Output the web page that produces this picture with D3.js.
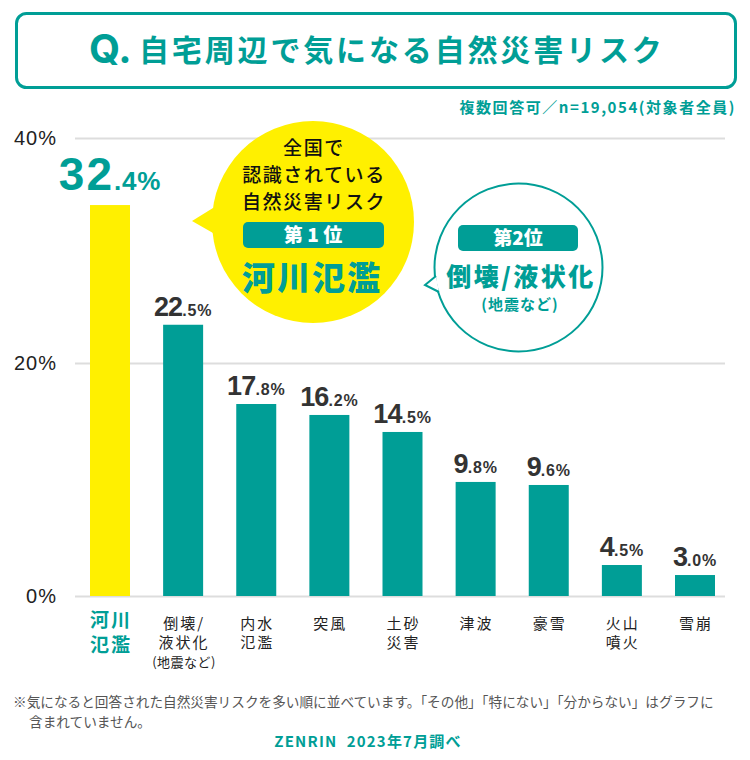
<!DOCTYPE html>
<html lang="ja">
<head>
<meta charset="UTF-8">
<title>自宅周辺で気になる自然災害リスク</title>
<script src="https://d3js.org/d3.v7.min.js"></script>
<style>
	html,body{margin:0;padding:0;background:#fff;}
	svg{display:block;}
	text{font-family:"Noto Sans CJK JP","Noto Sans",sans-serif;}
	.num{font-family:"Liberation Sans",Arial,sans-serif;font-weight:700;}
</style>
</head>
<body>
<script>
var teal = "#009e96", yellow = "#fff000", ink = "#222";

var categories = ["河川氾濫","倒壊/液状化","内水氾濫","突風","土砂災害","津波","豪雪","火山噴火","雪崩"];
// printed labels
var labelWhole = ["32","22","17","16","14","9","9","4","3"];
var labelDecimal = [".4%",".5%",".8%",".2%",".5%",".8%",".6%",".5%",".0%"];
// the source bars do not follow their printed numbers exactly, so bar
// lengths are read against the axis separately from the labels
var barValues = [34.04,23.4,16.48,15.54,14.08,9.79,9.53,2.66,1.8];
var tickValues = [0,20,40];
var categoryLines = [["河川","氾濫"],["倒壊/","液状化","(地震など)"],["内水","氾濫"],["突風"],["土砂","災害"],["津波"],["豪雪"],["火山","噴火"],["雪崩"]];

var svg = d3.select("body").append("svg").attr("width",750).attr("height",760);

var x = d3.scaleBand().domain(categories).range([90,715]).paddingInner(0.453).paddingOuter(0);
// source axis is unevenly spaced: 0-20 is a little taller than 20-40
var y = d3.scaleLinear().domain([0,20,40]).range([596,363,138]);

// title
svg.append("rect").attr("x",16.5).attr("y",13.5).attr("width",719).attr("height",74).attr("rx",10)
	.attr("fill","#fff").attr("stroke",teal).attr("stroke-width",3);
svg.append("text").attr("x",89).attr("y",63).attr("font-size",40).style("font-family","Inter,sans-serif").style("font-weight",700).attr("fill",teal).text("Q.");
svg.append("text").attr("x",139).attr("y",61).attr("font-size",30).attr("font-weight",700)
	.attr("letter-spacing",2.85).attr("fill",teal).text("自宅周辺で気になる自然災害リスク");
svg.append("text").attr("x",736).attr("y",113).attr("text-anchor","end").attr("font-size",15).attr("font-weight",700)
	.attr("letter-spacing",1.55).attr("fill",teal).text("複数回答可／n=19,054(対象者全員)");

// y axis + grid
var yAxis = svg.append("g").attr("transform","translate(75,0)")
	.call(d3.axisLeft(y).tickValues(tickValues).tickFormat(function(d){return d+"%";}).tickSize(-650).tickPadding(18));
yAxis.select(".domain").remove();
yAxis.selectAll("line").attr("stroke","#ddd").attr("stroke-width",2);
yAxis.selectAll("text").attr("font-size",20).style("font-family","'Liberation Sans',Arial,sans-serif")
	.attr("letter-spacing",1).attr("dy","0.32em").attr("fill",ink);

// bars
svg.selectAll(".bar").data(categories).enter().append("rect").attr("class","bar")
	.attr("x",function(d){return x(d);})
	.attr("width",x.bandwidth())
	.attr("y",function(d,i){return y(barValues[i]);})
	.attr("height",function(d,i){return y(0)-y(barValues[i]);})
	.attr("fill",function(d,i){return i==0?yellow:teal;});

// value labels
var vals = svg.selectAll(".val").data(categories).enter().append("text").attr("class","val num")
	.attr("text-anchor","middle")
	.attr("x",function(d){return x(d)+x.bandwidth()/2;})
	.attr("y",function(d,i){return y(barValues[i])-(i==0?15:9);})
	.attr("fill",function(d,i){return i==0?teal:"#333";});
vals.append("tspan").attr("font-size",function(d,i){return i==0?46:27;})
	.attr("letter-spacing",function(d,i){return i==0?2:-0.8;})
	.text(function(d,i){return labelWhole[i];});
vals.append("tspan").attr("font-size",function(d,i){return i==0?26:16;}).attr("letter-spacing",0.8).text(function(d,i){return labelDecimal[i];});

// category labels
categoryLines.forEach(function(lines,i){
	var g = svg.append("g");
	lines.forEach(function(line,j){
		var small = line.charAt(0)=="(";
		g.append("text").attr("text-anchor","middle")
			.attr("x",x(categories[i])+x.bandwidth()/2+1)
			.attr("y",i==0?626.5+j*25:628.5+j*19.5-(small?0.5:0))
			.attr("font-size",i==0?19:small?13:15)
			.attr("letter-spacing",i==0?2:small?0.5:2)
			.attr("font-weight",i==0?700:400)
			.attr("fill",i==0?teal:ink)
			.text(line);
	});
});

// yellow callout
svg.append("path").attr("d","M213,208 L192,221 L213,233 Z").attr("fill",yellow);
svg.append("circle").attr("cx",313).attr("cy",222).attr("r",101).attr("fill",yellow);
[["全国で",155],["認識されている",182],["自然災害リスク",209]].forEach(function(t){
	svg.append("text").attr("x",314).attr("y",t[1]).attr("text-anchor","middle").attr("font-size",19)
		.attr("font-weight",500).attr("letter-spacing",1.6).attr("fill","#111").text(t[0]);
});
svg.append("rect").attr("x",243).attr("y",222).attr("width",141).attr("height",26).attr("rx",5).attr("fill",teal);
svg.append("text").attr("x",313).attr("y",242).attr("text-anchor","middle").attr("font-size",19).attr("font-weight",900)
	.attr("fill","#fff").text("第 1 位");
svg.append("text").attr("x",312).attr("y",290).attr("text-anchor","middle").attr("font-size",33).attr("font-weight",900)
	.attr("letter-spacing",2).attr("fill",teal).text("河川氾濫");

// white callout
svg.append("circle").attr("cx",518.5).attr("cy",267.5).attr("r",84).attr("fill","#fff").attr("stroke",teal).attr("stroke-width",2);
svg.append("path").attr("d","M436,276 L425,285 L439,292").attr("fill","#fff").attr("stroke",teal).attr("stroke-width",2);
svg.append("rect").attr("x",458).attr("y",225).attr("width",120).attr("height",26).attr("rx",5).attr("fill",teal);
svg.append("text").attr("x",518).attr("y",245).attr("text-anchor","middle").attr("font-size",19).attr("font-weight",900)
	.attr("fill","#fff").text("第2位");
svg.append("text").attr("x",521).attr("y",286).attr("text-anchor","middle").attr("font-size",25).attr("font-weight",900)
	.attr("letter-spacing",2.5).attr("fill",teal).text("倒壊/液状化");
svg.append("text").attr("x",520).attr("y",310).attr("text-anchor","middle").attr("font-size",15).attr("font-weight",700)
	.attr("letter-spacing",1).attr("fill",teal).text("(地震など)");

// notes
svg.append("text").attr("x",13).attr("y",707).attr("font-size",13.65).attr("fill","#555")
	.text("※気になると回答された自然災害リスクを多い順に並べています。「その他」「特にない」「分からない」はグラフに");
svg.append("text").attr("x",29).attr("y",727).attr("font-size",13.65).attr("fill","#555").text("含まれていません。");
svg.append("text").attr("x",368).attr("y",747).attr("text-anchor","middle").attr("font-size",15).attr("font-weight",700)
	.attr("letter-spacing",1.2).attr("fill",teal).attr("xml:space","preserve").text("ZENRIN  2023年7月調べ");
</script>
</body>
</html>
